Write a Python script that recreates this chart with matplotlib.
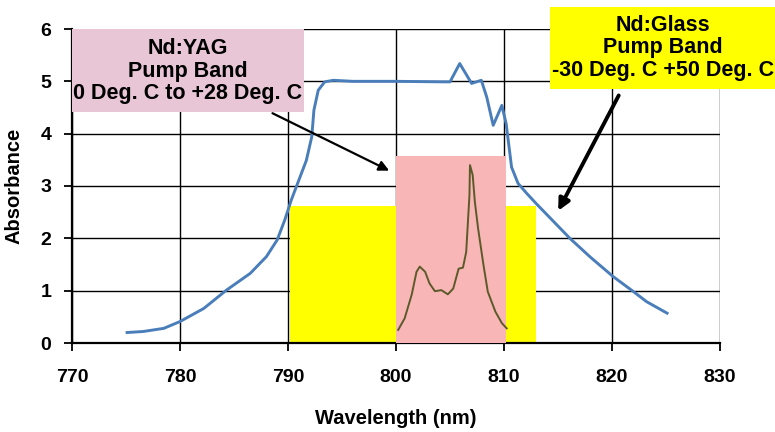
import matplotlib
matplotlib.use("Agg")
import matplotlib.pyplot as plt
from matplotlib.patches import Rectangle

plt.rcParams['font.family'] = ['Liberation Sans', 'DejaVu Sans']

# Nd:Glass absorbance (blue curve)
glass_wl = [775.1, 776.6, 778.5, 780.0, 782.2, 784.3, 786.5, 788.0, 789.0, 789.7,
            790.3, 791.0, 791.7, 792.2, 792.4, 792.8, 793.4, 794.2, 796.0, 800.0,
            804.4, 805.0, 805.9, 807.0, 807.9, 808.4, 809.0, 809.8, 810.2, 810.7,
            811.3, 812.1, 813.0, 816.1, 818.0, 820.1, 822.0, 823.2, 825.1]
glass_abs = [0.20, 0.22, 0.28, 0.41, 0.66, 1.01, 1.33, 1.65, 1.97, 2.35,
             2.73, 3.11, 3.49, 3.94, 4.45, 4.83, 4.99, 5.02, 5.00, 5.00,
             4.99, 4.99, 5.34, 4.96, 5.02, 4.70, 4.16, 4.54, 4.19, 3.36,
             3.05, 2.86, 2.66, 2.00, 1.64, 1.27, 0.98, 0.79, 0.57]

# Nd:YAG absorption (olive curve)
yag_wl = [800.2, 800.8, 801.45, 801.9, 802.2, 802.7, 803.1, 803.6, 804.2, 804.8,
          805.3, 805.8, 806.2, 806.5, 806.8, 806.85, 807.1, 807.3, 807.6, 808.1,
          808.5, 809.2, 809.8, 810.25]
yag_abs = [0.25, 0.47, 0.92, 1.36, 1.46, 1.36, 1.14, 0.99, 1.01, 0.93,
           1.04, 1.42, 1.44, 1.74, 2.82, 3.40, 3.21, 2.70, 2.19, 1.49,
           0.98, 0.60, 0.38, 0.28]

# pump band rectangles: (x0, x1, height)
glass_band = (790.2, 813.0, 2.61)
yag_band = (800.0, 810.2, 3.57)

xticks = [770, 780, 790, 800, 810, 820, 830]
yticks = [0, 1, 2, 3, 4, 5, 6]

yag_text = "Nd:YAG\nPump Band\n0 Deg. C to +28 Deg. C"
glass_text = "Nd:Glass\nPump Band\n-30 Deg. C +50 Deg. C"

fig = plt.figure(figsize=(7.75, 4.32), dpi=100)
ax = fig.add_axes([72/775, 1-343/432, 648/775, 314/432])
ax.set_xlim(770, 830)
ax.set_ylim(0, 6)
ax.set_xticks(xticks)
ax.set_yticks(yticks)
ax.set_xticklabels([str(t) for t in xticks], fontsize=14, fontweight='bold')
ax.set_yticklabels([str(t) for t in yticks], fontsize=14, fontweight='bold')
ax.tick_params(direction='out', length=6, width=1.3, color='black')
ax.tick_params(axis='y', pad=9)
ax.tick_params(axis='x', pad=13)
ax.grid(True, color='black', linewidth=1.0, zorder=0)
ax.set_axisbelow(True)
for s in ['top', 'right']:
    ax.spines[s].set_visible(False)
for s in ['left', 'bottom']:
    ax.spines[s].set_linewidth(1.6)

ax.add_patch(Rectangle((glass_band[0], 0), glass_band[1]-glass_band[0], glass_band[2],
                       facecolor='#FFFF00', edgecolor='none', zorder=2))
ax.add_patch(Rectangle((yag_band[0], 0), yag_band[1]-yag_band[0], yag_band[2],
                       facecolor='#F8B6B6', edgecolor='none', zorder=3))

ax.plot(yag_wl, yag_abs, color='#5C5A2A', linewidth=1.4, zorder=4, solid_joinstyle='round')
ax.plot(glass_wl, glass_abs, color='#4A7EBB', linewidth=2.1, zorder=5, solid_joinstyle='round')

ax.set_xlabel("Wavelength (nm)", fontsize=14.5, fontweight='bold', labelpad=16)
ax.set_ylabel("Absorbance", fontsize=14.5, fontweight='bold', labelpad=12)

# annotation boxes
yag_box = Rectangle((72/775, 1-112/432), (304-72)/775, (112-29)/432,
                    transform=fig.transFigure, facecolor='#E8C6D6', edgecolor='none', zorder=6)
fig.patches.append(yag_box)
fig.text((72+304)/2/775, 1-71/432, yag_text, ha='center', va='center', fontsize=15.5,
         fontweight='bold', linespacing=1.08, zorder=7)
glass_box = Rectangle((550/775, 1-89/432), (775-550)/775, (89-7)/432,
                      transform=fig.transFigure, facecolor='#FFFF00', edgecolor='none', zorder=6)
fig.patches.append(glass_box)
fig.text(663/775, 1-48/432, glass_text, ha='center', va='center', fontsize=15.5,
         fontweight='bold', linespacing=1.08, zorder=7)

ax.annotate("", xy=(799.6, 3.27), xycoords='data',
            xytext=(270/775, 1-112/432), textcoords='figure fraction',
            arrowprops=dict(arrowstyle='-|>', color='black', lw=1.6, mutation_scale=15),
            zorder=8, annotation_clip=False)
ax.annotate("", xy=(814.9, 2.48), xycoords='data',
            xytext=(620/775, 1-93/432), textcoords='figure fraction',
            arrowprops=dict(arrowstyle='-|>', color='black', lw=2.8, mutation_scale=17),
            zorder=8, annotation_clip=False)

fig.savefig("out.png", dpi=100)
